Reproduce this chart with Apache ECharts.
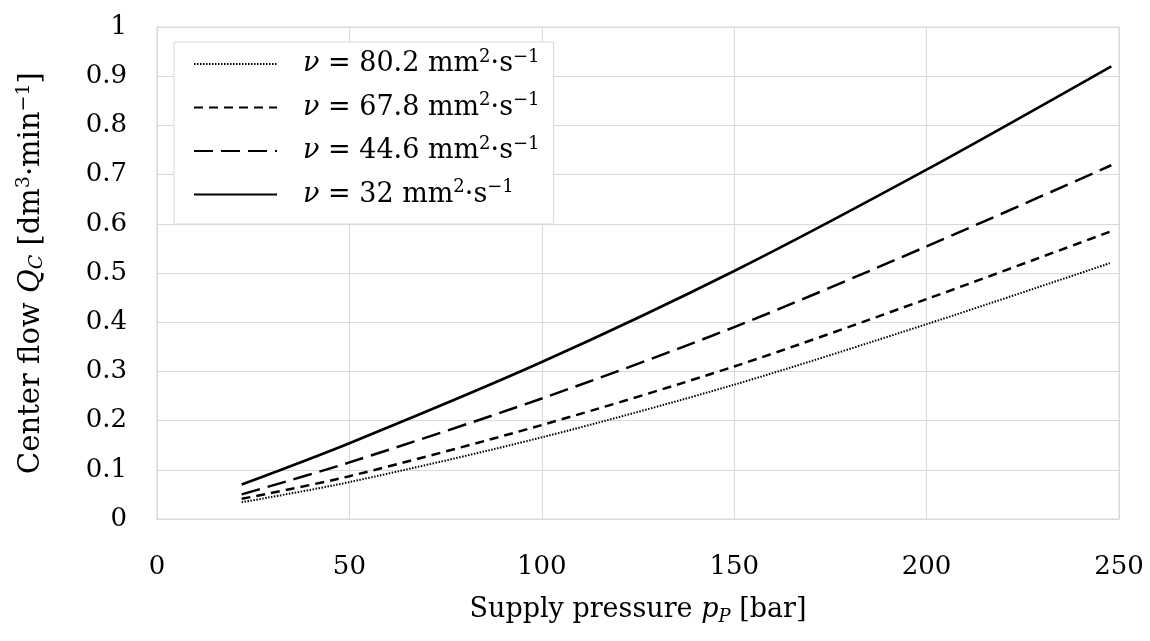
<!DOCTYPE html>
<html>
<head>
<meta charset="utf-8">
<script src="https://cdn.jsdelivr.net/npm/echarts@6/dist/echarts.min.js"></script>
<style>html,body{margin:0;padding:0;background:#fff}#c{width:1150px;height:641px}</style>
</head>
<body>
<div id="c"></div>
<script>
const pressure = [22, 50, 100, 150, 200, 248];
const nu80 = [0.034, 0.075, 0.166, 0.273, 0.396, 0.521];
const nu67 = [0.041, 0.087, 0.191, 0.310, 0.447, 0.585];
const nu44 = [0.050, 0.115, 0.245, 0.390, 0.554, 0.719];
const nu32 = [0.070, 0.154, 0.319, 0.504, 0.710, 0.920];
const seriesNames = ['80.2', '67.8', '44.6', '32'];
const xTicks = { min: 0, max: 250, step: 50 };
const yTicks = { min: 0, max: 1, step: 0.1 };

const FONT = '"DejaVu Serif", "Liberation Serif", serif';
const FS = 26;
const TS = 27;
const pair = a => pressure.map((x, i) => [x, a[i]]);

const styles = [
  { type: [1.5, 1.5], width: 2 },
  { type: [9, 6], width: 2.5 },
  { type: [19, 8], width: 2.5 },
  { type: 'solid', width: 2.6 }
];
const datas = [nu80, nu67, nu44, nu32];

function makeRich(size) {
  const sub = Math.round(size * 0.67);
  return {
    g: { width: 21, fontSize: size, fontFamily: FONT },
    i: { fontStyle: 'italic', fontSize: size, fontFamily: FONT, color: '#000', lineHeight: 32 },
    n: { fontSize: size, fontFamily: FONT, color: '#000', lineHeight: 32 },
    sup: { fontSize: sub, fontFamily: FONT, color: '#000', lineHeight: sub, verticalAlign: 'top' },
    sub: { fontSize: sub, fontFamily: FONT, color: '#000', fontStyle: 'italic', lineHeight: sub, verticalAlign: 'bottom' }
  };
}

const chart = echarts.init(document.getElementById('c'), null, { renderer: 'canvas' });
chart.setOption({
  animation: false,
  backgroundColor: '#fff',
  grid: { left: 157, right: 31, top: 27, bottom: 122, show: true, borderColor: '#d9d9d9', borderWidth: 1 },
  legend: {
    left: 174, top: 42, orient: 'vertical',
    backgroundColor: '#fff', borderColor: '#d9d9d9', borderWidth: 1,
    padding: [6, 14, 16, 19],
    itemWidth: 83, itemHeight: 14, itemGap: 14,
    itemStyle: { opacity: 0 },
    data: seriesNames.map(n => 'ν = ' + n),
    formatter: name => '{g| }{i|ν}{n| = ' + name.slice(4) + ' mm}{sup|2}{n|·s}{sup|−1}',
    textStyle: { fontFamily: FONT, fontSize: TS, color: '#000', rich: makeRich(TS) }
  },
  xAxis: {
    type: 'value', min: xTicks.min, max: xTicks.max, interval: xTicks.step,
    axisLine: { show: true, lineStyle: { color: '#d9d9d9' } },
    axisTick: { show: false },
    splitLine: { show: true, lineStyle: { color: '#d9d9d9', width: 1 } },
    axisLabel: { fontFamily: FONT, fontSize: FS, color: '#000', margin: 35 },
    name: '{n|Supply pressure }{i|p}{sub|P}{n| [bar]}',
    nameLocation: 'middle', nameGap: 75,
    nameTextStyle: { fontFamily: FONT, fontSize: TS, color: '#000', rich: makeRich(TS) }
  },
  yAxis: {
    type: 'value', min: yTicks.min, max: yTicks.max, interval: yTicks.step,
    axisLine: { show: true, lineStyle: { color: '#d9d9d9' } },
    axisTick: { show: false },
    splitLine: { show: true, lineStyle: { color: '#d9d9d9', width: 1 } },
    axisLabel: { fontFamily: FONT, fontSize: FS, color: '#000', margin: 30 },
    name: '{n|Center flow }{i|Q}{sub|C}{n| [dm}{sup|3}{n|·min}{sup|−1}{n|]}',
    nameLocation: 'middle', nameGap: 110, nameRotate: 90,
    nameTextStyle: { fontFamily: FONT, fontSize: 29, color: '#000', rich: makeRich(29) }
  },
  series: datas.map((d, k) => ({
    name: 'ν = ' + seriesNames[k],
    type: 'line',
    data: pair(d),
    smooth: 0.3,
    symbol: 'none',
    showSymbol: false,
    lineStyle: { color: '#000', width: styles[k].width, type: styles[k].type },
    itemStyle: { color: '#000' }
  }))
});
</script>
</body>
</html>
